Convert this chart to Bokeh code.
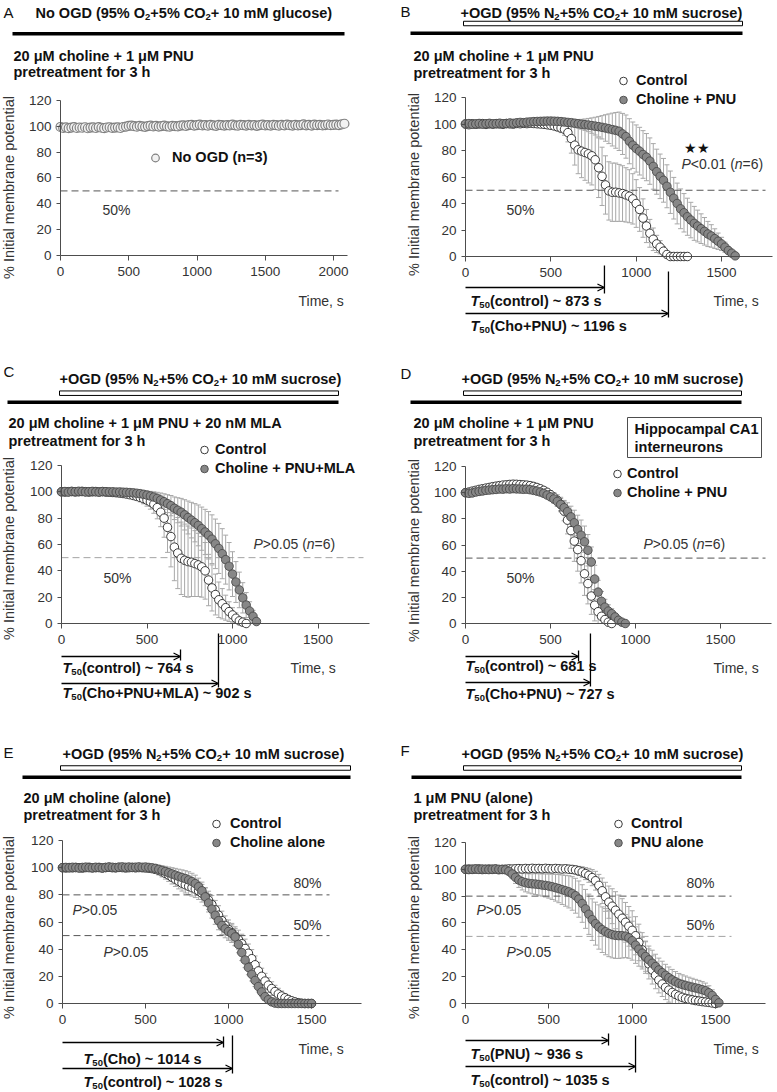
import numpy as np
from bokeh.plotting import figure
from bokeh.models import (Range1d, LinearAxis, FixedTicker, Whisker, TeeHead,
                          ColumnDataSource, Arrow, OpenHead, Legend, LegendItem)
from bokeh.layouts import gridplot
from bokeh.core.properties import value
from bokeh.embed import file_html
from bokeh.resources import INLINE

FONT = "Liberation Sans"
STEP = 20  # sampling interval of the recordings, s

X_TICKS_A = [0, 500, 1000, 1500, 2000]
X_TICKS = [0, 500, 1000, 1500]
Y_TICKS = [0, 20, 40, 60, 80, 100, 120]

# ---------------- Panel A : no OGD ----------------
A_noogd = [99.5, 98.8, 99.2, 98.6, 99.0, 99.4, 98.7, 99.1, 98.9, 99.3,
           98.5, 99.0, 99.2, 98.7, 99.4, 98.9, 98.6, 99.1, 99.3, 98.8,
           99.0, 99.2, 98.7, 99.5, 99.8, 100.3,
           100.6, 100.1, 99.7, 100.4, 100.0, 99.6, 100.2, 100.5, 99.9, 100.3,
           99.8, 100.1, 100.6, 100.0, 99.7, 100.4, 100.2, 99.9, 100.5, 100.8,
           100.3, 100.9, 101.2, 100.6, 100.9,
           101.3, 100.7, 101.0, 100.5, 101.1, 100.8, 100.4, 101.2, 100.9, 100.6,
           101.0, 100.7, 101.3, 100.8, 100.5, 101.1, 100.9, 100.6, 101.2, 100.8,
           101.0, 100.4, 100.9, 101.3, 100.7,
           101.0, 100.6, 101.2, 100.9, 100.5, 101.1, 100.8, 101.4, 100.9, 100.6,
           101.2, 100.7, 101.0, 101.5, 100.8, 101.1, 100.6, 101.3, 100.9, 101.2,
           100.7, 101.0, 101.4, 100.9, 101.1,
           101.3, 101.0, 101.5, 102.0]

# ---------------- Panel B : choline + PNU ----------------
B_ctrl = [100.0, 99.5, 100.2, 99.8, 100.0, 100.3, 99.7, 100.1, 99.9, 100.2,
          100.0, 99.8, 100.3, 100.1, 99.9, 100.4, 100.2, 100.5, 100.3, 100.6,
          100.4, 100.2, 100.0, 99.8, 99.4,
          99.0, 98.5, 97.8, 97.0, 96.0, 93.5, 89.0, 84.0, 80.5, 79.5,
          78.5, 77.5, 76.0, 73.0, 67.0, 60.5, 54.0, 49.5, 48.5, 48.5,
          48.0, 47.5, 46.5, 45.5, 43.5, 40.0, 35.5, 29.0, 23.0, 17.5,
          13.0, 9.5, 7.0, 4.0, 1.5, 0.0, 0.0, 0.0, 0.0, 0.0, 0.0]
B_ctrl_sem = [0.5, 0.6, 0.5, 0.7, 0.6, 0.5, 0.6, 0.7, 0.6, 0.5,
              0.6, 0.7, 0.8, 0.7, 0.6, 0.8, 0.9, 0.8, 0.9, 1.0,
              1.1, 1.0, 1.2, 1.4, 1.6,
              2.0, 2.5, 3.0, 3.5, 4.5, 7.0, 11.0, 15.0, 18.0, 20.0,
              21.0, 22.0, 22.0, 22.5, 22.5, 22.0, 22.0, 22.0, 22.0, 22.0,
              21.5, 21.0, 20.5, 20.0, 19.0, 18.0, 16.5, 14.5, 12.5, 10.5,
              8.5, 6.5, 5.0, 3.5, 2.0, 0.0, 0.0, 0.0, 0.0, 0.0, 0.0]
B_cho = [100.0, 100.3, 99.8, 100.1, 100.4, 99.9, 100.2, 100.5, 100.1, 100.3,
         100.6, 100.2, 100.4, 100.8, 100.5, 100.9, 101.2, 101.0, 101.4, 101.6,
         101.8, 101.9, 102.0, 102.1, 102.2, 102.2, 102.1, 102.0, 101.8, 101.5,
         101.2,
         101.0, 100.6, 100.2, 99.8, 99.5, 99.2, 98.8, 98.4, 98.0, 97.5,
         97.0, 96.4, 95.8, 95.2,
         94.5, 92.5, 90.5, 87.0, 84.0, 81.5, 79.5, 77.0, 75.0, 72.0,
         68.0, 64.0, 60.5, 57.5, 53.0, 48.5, 44.0, 40.0, 36.0, 33.0,
         30.0, 27.5, 25.0, 23.0, 21.0, 19.0, 17.0, 15.5, 13.5, 11.5,
         9.5, 7.0, 4.5, 2.5, 0.5]
B_cho_sem = [0.5, 0.5, 0.6, 0.5, 0.6, 0.7, 0.6, 0.5, 0.6, 0.7,
             0.6, 0.7, 0.8, 0.7, 0.8, 0.9, 0.8, 0.9, 1.0, 0.9,
             1.0, 1.1, 1.0, 1.2, 1.1, 1.3, 1.4, 1.5, 1.7, 1.9,
             2.1,
             2.4, 2.8, 3.2, 3.7, 4.3, 5.0, 5.8, 6.7, 7.7, 8.8,
             10.0, 11.2, 12.4, 13.5,
             14.5, 15.5, 16.3, 17.0, 17.5, 17.8, 18.0, 18.0, 17.8, 17.5,
             17.2, 17.0, 16.8, 16.5, 16.2, 16.0, 15.7, 15.4, 15.0, 14.5,
             14.0, 13.4, 12.8, 12.0, 11.2, 10.4, 9.5, 8.5, 7.4, 6.2,
             5.0, 3.8, 2.6, 1.5, 0.5]
B_t50 = ["873", "1196"]
B_t50_drawn = [814, 1189]

# ---------------- Panel C : choline + PNU + MLA ----------------
C_ctrl = [100.0, 99.8, 100.1, 100.2, 99.9, 100.0, 100.3, 100.1, 99.8, 100.0,
          100.2, 99.9, 100.1, 99.8, 99.7, 99.5, 99.3, 99.0,
          98.7, 98.3, 97.8, 97.2, 96.5, 95.7, 94.8, 93.7, 92.3, 90.5,
          88.0, 84.5, 80.0, 73.0, 66.0, 58.0, 53.5, 49.5, 48.0, 47.0,
          46.5, 45.5, 44.5, 43.0, 40.0, 33.0, 27.0, 22.0, 18.0, 15.0,
          12.0, 9.0, 6.5, 4.0, 2.0, 1.0, 0.0]
C_ctrl_sem = [0.4, 0.5, 0.4, 0.5, 0.6, 0.5, 0.4, 0.5, 0.6, 0.5,
              0.6, 0.7, 0.6, 0.7, 0.8, 0.9, 1.0, 1.2,
              1.4, 1.7, 2.0, 2.4, 2.8, 3.3, 3.9, 4.6, 5.5, 6.8,
              8.5, 11.0, 14.5, 19.0, 23.0, 25.5, 27.0, 27.5, 27.5, 27.0,
              26.0, 25.0, 24.0, 23.0, 21.5, 19.5, 17.5, 15.5, 13.5, 11.5,
              9.5, 7.5, 5.5, 4.0, 2.5, 1.2, 0.0]
C_cho = [100.0, 100.2, 99.8, 100.3, 100.1, 100.4, 100.2, 99.9, 100.1, 100.3,
         100.0, 99.8, 100.2, 100.1, 99.9, 100.0, 99.8, 99.9, 99.7, 99.6,
         99.4, 99.2, 98.9,
         98.6, 98.1, 97.5, 96.8, 96.0, 95.0, 93.8, 92.5, 91.0, 89.5,
         87.5, 86.0, 84.5, 82.5, 80.5, 78.5, 76.5, 74.5, 72.0, 69.5,
         67.0, 64.0, 60.5, 57.0, 53.0, 48.5, 43.5, 37.5, 31.5, 25.5,
         19.5, 14.0, 9.5, 5.5, 1.5]
C_cho_sem = [0.4, 0.5, 0.5, 0.4, 0.5, 0.6, 0.5, 0.6, 0.5, 0.6,
             0.7, 0.6, 0.7, 0.8, 0.7, 0.8, 0.9, 1.0, 1.1, 1.2,
             1.4, 1.6, 1.9,
             2.2, 2.6, 3.0, 3.5, 4.0, 4.6, 5.3, 6.0, 6.8, 7.7,
             8.6, 9.5, 10.5, 11.5, 12.5, 13.5, 14.5, 15.5, 16.4, 17.2,
             18.0, 18.5, 18.8, 19.0, 19.0, 18.6, 18.0, 17.0, 15.5, 13.5,
             11.5, 9.5, 7.0, 4.5, 2.0]
C_t50 = ["764", "902"]
C_t50_drawn = [696, 918]

# ---------------- Panel D : CA1 interneurons ----------------
D_ctrl = [100.0, 100.5, 101.2, 101.8, 102.5, 103.0, 103.5, 104.0, 104.6, 105.0,
          105.4, 105.8, 106.0, 106.3, 106.5, 106.4, 106.2, 106.0, 105.8, 105.4,
          104.8, 104.0, 103.0, 101.8, 100.3, 98.5, 96.5, 94.2, 91.0, 86.0,
          79.0, 71.0, 63.0, 56.5, 48.0, 38.0, 30.5, 21.0, 14.0, 9.0,
          5.5, 3.0, 1.0, 0.0]
D_ctrl_sem = [1.0, 1.2, 1.4, 1.5, 1.7, 1.8, 2.0, 2.1, 2.2, 2.3,
              2.4, 2.5, 2.5, 2.6, 2.6, 2.7, 2.7, 2.7, 2.6, 2.6,
              2.5, 2.5, 2.4, 2.5, 2.7, 3.0,
              3.5, 4.2, 5.5, 7.5, 10.5, 13.5, 15.5, 16.5, 17.0, 16.5,
              15.5, 14.0, 12.0, 9.5, 7.0, 4.5, 2.0, 0.5]
D_cho = [100.0, 99.5, 99.8, 100.5, 101.0, 101.3, 101.8, 102.0, 102.3, 102.5,
         102.8, 102.7, 103.0, 102.8, 103.1, 102.9, 102.8, 102.6, 102.7, 102.3,
         101.8, 101.2, 100.5, 99.5, 98.2, 96.8, 95.2, 93.3, 91.0, 88.5,
         85.5, 81.5, 77.0, 72.0, 67.5, 62.5, 56.0, 47.0, 34.0, 24.0,
         17.0, 12.5, 9.5, 7.5, 5.0, 2.5, 1.0, 0.0]
D_cho_sem = [1.0, 1.1, 1.2, 1.3, 1.4, 1.5, 1.6, 1.7, 1.8, 1.9,
             2.0, 2.0, 2.1, 2.1, 2.2, 2.2, 2.2, 2.2, 2.1, 2.1,
             2.0, 2.0, 2.1, 2.2, 2.4, 2.7,
             3.2, 3.8, 4.6, 5.6, 6.8, 8.2, 9.6, 10.8, 11.6, 12.0,
             12.0, 11.5, 10.5, 9.0, 7.5, 6.0, 4.8, 3.8, 2.8, 1.8,
             1.0, 0.3]
D_t50 = ["681", "727"]
D_t50_drawn = [665, 735]

# ---------------- Panel E : choline alone ----------------
E_ctrl = [100.0, 99.8, 100.1, 99.9, 100.2, 100.0, 99.7, 100.1, 100.3, 99.9,
          100.0, 100.2, 99.8, 100.1, 100.3, 100.0, 99.9, 100.2, 100.1, 99.8,
          100.0, 100.2, 99.9, 100.1, 100.0, 99.8, 99.6, 99.3,
          98.8, 98.0, 97.0, 95.8, 94.5, 93.0, 91.5, 90.0, 88.6, 87.4,
          86.3, 85.3, 84.3, 83.0, 81.2, 78.8, 76.0, 72.8, 69.0, 65.0,
          61.0, 57.5, 54.5, 52.0, 49.5, 47.0, 44.0, 40.5, 37.0, 33.0,
          28.5, 24.0, 20.0, 16.5, 13.5, 11.0, 8.8, 7.0, 5.5, 4.2,
          3.0, 2.0, 1.2, 0.6, 0.2, 0.0, 0.0, 0.0]
E_ctrl_sem = [0.5, 0.6, 0.5, 0.6, 0.5, 0.6, 0.7, 0.6, 0.5, 0.6,
              0.7, 0.6, 0.7, 0.8, 0.7, 0.8, 0.9, 0.8, 0.9, 1.0,
              1.1, 1.2, 1.3, 1.5, 1.7, 1.9, 2.2, 2.5,
              2.9, 3.3, 3.8, 4.2, 4.6, 5.0, 5.3, 5.6, 5.8, 6.0,
              6.1, 6.2, 6.3, 6.4, 6.5, 6.6, 6.7, 6.8, 6.9, 7.0,
              7.0, 7.0, 7.0, 7.0, 7.0, 7.0, 7.0, 6.9, 6.8, 6.7,
              6.5, 6.3, 6.0, 5.7, 5.4, 5.0, 4.6, 4.2, 3.7, 3.2,
              2.7, 2.2, 1.7, 1.2, 0.8, 0.4, 0.2, 0.0]
E_cho = [100.0, 100.2, 99.9, 100.3, 100.1, 99.8, 100.2, 100.4, 100.0, 99.9,
         100.3, 100.1, 99.8, 100.2, 100.5, 100.3, 100.1, 100.4, 100.6, 100.3,
         100.5, 100.2, 100.4, 100.6, 100.3, 100.5, 100.2, 99.9,
         99.5, 98.8, 98.0, 97.2, 96.3, 95.4, 94.5, 93.6, 92.8, 92.0,
         91.0, 89.8, 88.3, 86.0, 83.0, 78.5, 74.0, 69.5, 65.0, 61.0,
         57.5, 55.0, 53.0, 51.5, 49.0, 43.5, 37.5, 32.0, 26.5, 21.5,
         17.0, 12.5, 8.5, 5.0, 2.8, 1.2, 0.3,
         0.0, 0.0, 0.0, 0.0, 0.0, 0.0, 0.0, 0.0, 0.0, 0.0, 0.0]
E_cho_sem = [0.5, 0.5, 0.6, 0.5, 0.6, 0.5, 0.6, 0.7, 0.6, 0.5,
             0.6, 0.7, 0.6, 0.7, 0.6, 0.7, 0.8, 0.7, 0.8, 0.9,
             1.0, 1.1, 1.2, 1.4, 1.6, 1.8, 2.0, 2.3,
             2.6, 3.0, 3.4, 3.8, 4.2, 4.6, 5.0, 5.3, 5.6, 5.8,
             6.0, 6.1, 6.2, 6.3, 6.4, 6.5, 6.6, 6.6, 6.7, 6.7,
             6.7, 6.6, 6.5, 6.4, 6.3, 6.1, 5.9, 5.6, 5.3, 4.9,
             4.5, 4.0, 3.4, 2.8, 2.2, 1.6, 1.0, 0.6, 0.3, 0.0,
             0.0, 0.0, 0.0, 0.0, 0.0, 0.0, 0.0, 0.0]
E_t50 = ["1014", "1028"]
E_t50_drawn = [970, 1024]

# ---------------- Panel F : PNU alone ----------------
F_ctrl = [100.0, 100.2, 99.9, 100.1, 100.3, 99.8, 100.0, 100.2, 99.9, 100.1,
          99.7, 99.9, 100.1, 100.3, 100.2, 100.4,
          100.5, 100.3, 100.6, 100.4, 100.7, 100.5, 100.6, 100.4, 100.7, 100.5,
          100.3, 100.6, 100.4, 100.2, 100.4, 100.1, 99.9, 99.5, 98.8, 98.0,
          96.8, 95.5, 93.8, 91.5, 88.0, 84.0, 79.5, 75.5, 72.5, 69.5,
          66.5, 63.5, 60.5, 57.5, 54.5, 50.5, 45.5, 40.0, 34.5, 29.5,
          25.0, 21.0, 17.5, 14.5, 12.0, 10.0, 8.2, 6.8, 5.6, 4.6,
          3.8, 3.2, 2.7, 2.2, 1.8, 1.4, 1.1, 0.8, 0.4, 0.0]
F_ctrl_sem = [0.8, 0.9, 1.0, 1.0, 1.1, 1.2, 1.2, 1.3, 1.3, 1.4,
              1.4, 1.5, 1.5, 1.5, 1.6, 1.6,
              1.6, 1.7, 1.7, 1.7, 1.8, 1.8, 1.8, 1.9, 1.9, 1.9,
              2.0, 2.0, 2.1, 2.2, 2.3, 2.5, 2.7, 3.0, 3.4, 3.9,
              4.5, 5.2, 6.0, 7.0, 8.2, 9.5, 10.8, 12.0, 13.0, 13.8,
              14.3, 14.6, 14.8, 14.8, 14.6, 14.2, 13.6, 12.8, 12.0, 11.2,
              10.5, 10.0, 9.6, 9.3, 9.1, 9.0, 9.0, 9.0, 9.0, 9.0,
              9.0, 8.8, 8.5, 8.0, 7.4, 6.6, 5.6, 4.4, 2.8, 0.0]
F_pnu = [100.0, 99.8, 100.1, 100.3, 99.9, 100.2, 100.0, 99.8, 100.1, 100.3,
         100.0, 99.9, 99.6,
         98.5, 96.5, 94.0, 92.0, 90.8, 90.0, 89.5, 89.2, 89.0, 88.7,
         88.3, 88.0, 87.5, 87.0, 86.3, 85.6, 84.8, 84.0, 83.2, 82.0,
         80.3, 77.8, 74.5, 70.5, 66.5, 62.5, 59.5, 57.0, 55.0, 53.5,
         52.2, 51.3, 50.8, 50.6, 50.5, 50.2, 49.0, 46.8, 43.5, 40.5,
         37.5, 35.0, 32.5, 30.0, 27.5, 25.0, 23.0, 21.0, 19.2, 17.6,
         16.2, 15.0, 14.2, 13.5, 12.8, 12.2, 11.6, 11.0, 10.3, 9.5,
         8.0, 6.0, 3.0, 0.5]
F_pnu_sem = [0.8, 0.9, 0.9, 1.0, 1.0, 1.1, 1.1, 1.2, 1.2, 1.3,
             1.3, 1.5, 1.8,
             2.5, 3.5, 4.5, 5.5, 6.2, 6.8, 7.2, 7.5, 7.8, 8.0,
             8.3, 8.6, 9.0, 9.5, 10.0, 10.5, 11.0, 11.5, 12.0, 12.5,
             13.0, 13.5, 14.0, 14.5, 15.0, 15.5, 16.0, 16.5, 17.0, 17.2,
             17.3, 17.3, 17.2, 17.0, 16.6, 16.0, 15.3, 14.5, 13.6, 12.7,
             11.8, 11.0, 10.3, 9.7, 9.2, 8.8, 8.5, 8.2, 8.0, 7.8,
             7.6, 7.4, 7.2, 7.0, 6.8, 6.6, 6.4, 6.2, 6.0, 5.7,
             5.2, 4.2, 2.8, 1.0]
F_t50 = ["936", "1035"]
F_t50_drawn = [858, 1020]

# ---------------------------------------------------------------
EB = "#a8a8a8"
CTRL_FILL, CTRL_LINE = "white", "#262626"
TRT_FILL, TRT_LINE = "#878787", "#4a4a4a"
DARK_DASH, LIGHT_DASH = "#555555", "#a3a3a3"
TXT = "#111111"
GREY_TXT = "#333333"

W_REG = {' ': 278, '%': 889, '(': 333, ')': 333, '+': 584, ',': 278, '.': 278,
         '<': 584, '=': 584, '>': 584, '~': 584, 'P': 667, 'T': 611, 'n': 556, 's': 500}
W_BOLD = {' ': 278, '%': 889, '(': 333, ')': 333, '+': 584, '.': 278, '~': 584,
          'T': 611, 'C': 722, 'P': 667, 'N': 722, 'U': 722, 'M': 833, 'L': 611,
          'A': 722, 'O': 778, 'G': 778, 'D': 722, 'c': 556, 'o': 611, 'n': 611,
          't': 333, 'r': 389, 'l': 278, 's': 556, 'h': 611, 'i': 278, 'e': 556,
          'm': 889, 'g': 611, 'u': 611}


def text_width(s, size, bold):
    tab = W_BOLD if bold else W_REG
    return sum(tab.get(c, 556) for c in s) * size / 1000.0


def times(vals):
    return [i * STEP for i in range(len(vals))]


class Panel:
    def __init__(self, fx, fy, w, h, x0, kx, y0, ky):
        self.fx, self.fy, self.w, self.h = fx, fy, w, h
        self.x0, self.kx, self.y0, self.ky = x0, kx, y0, ky
        p = figure(width=w, height=h,
                   x_range=Range1d((fx - x0) / kx, (fx + w - x0) / kx),
                   y_range=Range1d((y0 - fy - h) / ky, (y0 - fy) / ky),
                   output_backend="svg", toolbar_location=None,
                   x_axis_location=None, y_axis_location=None, title_location=None,
                   min_border=0, min_border_left=0, min_border_right=0,
                   min_border_top=0, min_border_bottom=0,
                   outline_line_color=None, background_fill_color="white",
                   border_fill_color="white")
        p.grid.visible = False
        self.p = p

    def X(self, px):
        return (px - self.x0) / self.kx

    def Y(self, py):
        return (self.y0 - py) / self.ky

    def text(self, px, py, s, size=14.5, style="bold", color=TXT, align="left", angle=0.0):
        self.p.text(x=[self.X(px)], y=[self.Y(py)], text=[s], angle=angle,
                    text_font=value(FONT), text_font_size=f"{size}px",
                    text_font_style=style, text_color=color,
                    text_align=align, text_baseline="middle")

    def rich(self, px, py, parts, color=TXT):
        x = px
        for s, size, style, dyp in parts:
            self.text(x, py + dyp, s, size=size, style=style, color=color)
            x += text_width(s, size, "bold" in style)

    def title(self, px, py, gas, tail):
        parts = []
        for seg in gas:
            parts.append((seg, 14.5, "bold", 0))
            parts.append(("2", 9.5, "bold", 4))
        parts.append((tail, 14.5, "bold", 0))
        self.rich(px, py, parts)

    def black_bar(self, x1, x2, py):
        self.p.segment(x0=[self.X(x1)], y0=[self.Y(py)], x1=[self.X(x2)], y1=[self.Y(py)],
                       line_color="black", line_width=3.5)

    def open_bar(self, x1, x2, py):
        self.p.rect(x=[(self.X(x1) + self.X(x2)) / 2], y=[self.Y(py)],
                    width=[self.X(x2) - self.X(x1)], height=[4.5], height_units="screen",
                    fill_color="white", line_color="black", line_width=1)

    def axes(self, xmax, xticks):
        common = dict(axis_line_color="#4d4d4d", major_tick_line_color="#4d4d4d",
                      major_tick_in=0, minor_tick_in=0, minor_tick_out=0,
                      major_label_text_font=FONT, major_label_text_color=GREY_TXT,
                      major_label_text_font_size="13.5px", axis_line_width=1)
        xa = LinearAxis(fixed_location=0, bounds=(0, xmax),
                        ticker=FixedTicker(ticks=xticks, minor_ticks=[]),
                        major_tick_out=5, major_label_standoff=6, **common)
        ya = LinearAxis(fixed_location=0, bounds=(0, 120),
                        ticker=FixedTicker(ticks=Y_TICKS, minor_ticks=[]),
                        major_tick_out=4, major_label_standoff=5, **common)
        self.p.add_layout(xa, "below")
        self.p.add_layout(ya, "left")

    def ylabel(self, px, py):
        self.text(px, py, "% Initial membrane potential", size=14.5, style="normal",
                  color=GREY_TXT, align="center", angle=np.pi / 2)

    def series(self, vals, sems, fill, line, size=8.5, lw=0.9):
        t = times(vals)
        if sems is not None:
            rows = [(ti, v, s) for ti, v, s in zip(t, vals, sems) if s > 0.3]
            src = ColumnDataSource(dict(t=[r[0] for r in rows],
                                        up=[r[1] + r[2] for r in rows],
                                        lo=[max(r[1] - r[2], 0.0) for r in rows]))
            self.p.add_layout(Whisker(source=src, base="t", upper="up", lower="lo",
                                      line_color=EB, line_width=1,
                                      upper_head=TeeHead(size=5, line_color=EB, line_width=1),
                                      lower_head=TeeHead(size=5, line_color=EB, line_width=1)))
        return self.p.scatter(t, vals, size=size, marker="circle", fill_color=fill,
                              line_color=line, line_width=lw)

    def legend(self, items, mx, my, standoff):
        n = len(items)
        left = mx - 10 - self.fx
        bottom = my + 19 * (n - 1) + 9.5 - self.fy
        leg = Legend(items=[LegendItem(label=l, renderers=[r]) for l, r in items],
                     location=(left, self.h - bottom), orientation="vertical",
                     glyph_width=20, glyph_height=19, label_height=19, label_standoff=standoff,
                     spacing=0, padding=0, margin=0, border_line_color=None,
                     background_fill_alpha=0, label_text_font=FONT,
                     label_text_font_size="14.5px", label_text_font_style="bold",
                     label_text_color=TXT)
        self.p.add_layout(leg)

    def refline(self, level, xend_px, color):
        self.p.segment(x0=[0], y0=[level], x1=[self.X(xend_px)], y1=[level],
                       line_color=color, line_dash="7 4", line_width=1)

    def t50(self, t_end, ypx, vtop, vbot, tx, ty, inner):
        y = self.Y(ypx)
        self.p.add_layout(Arrow(end=OpenHead(size=7, line_width=1.3, line_color="black"),
                                x_start=0, y_start=y, x_end=t_end, y_end=y,
                                line_width=1.3, line_color="black"))
        self.p.segment(x0=[t_end], y0=[self.Y(vtop)], x1=[t_end], y1=[self.Y(vbot)],
                       line_color="black", line_width=1.3)
        self.rich(tx, ty, [("T", 14.5, "bold italic", 0), ("50", 9.5, "bold", 4),
                           (inner, 14.5, "bold", 0)])

    def pval(self, px, py, op, n=None):
        parts = [("P", 14, "italic", 0)]
        if n is None:
            parts.append((op, 14, "normal", 0))
        else:
            parts += [(op + " (", 14, "normal", 0), ("n", 14, "italic", 0),
                      ("=" + n + ")", 14, "normal", 0)]
        self.rich(px, py, parts, color=GREY_TXT)


OGD = ["+OGD (95% N", "+5% CO"]
OGD_TAIL = " + 10 mM sucrose)"

# ===================== A =====================
pa = Panel(0, 0, 388, 362, 60, 0.1365, 255, 1.2917)
pa.text(3, 12, "A", size=15, style="normal")
pa.title(35, 12, ["No OGD (95% O", "+5% CO"], " + 10 mM glucose)")
pa.black_bar(12, 344, 33.3)
pa.text(13, 55, "20 \u03bcM choline + 1 \u03bcM PNU")
pa.text(13, 71, "pretreatment for 3 h")
pa.axes(2100, X_TICKS_A)
pa.ylabel(8, 187)
pa.refline(50, 338, DARK_DASH)
pa.text(102, 209, "50%", size=14, style="normal", color=GREY_TXT)
ra = pa.series(A_noogd, None, "#f2f2f2", "#808080", size=9, lw=1.2)
pa.legend([("No OGD (n=3)", ra)], 155, 157, 7)
pa.text(298, 300, "Time, s", size=14, style="normal", color=GREY_TXT)

# ===================== B =====================
pb = Panel(388, 0, 389, 362, 465, 0.1707, 256, 1.325)
pb.text(400, 11, "B", size=15, style="normal")
pb.title(460, 12, OGD, OGD_TAIL)
pb.open_bar(463, 742, 23)
pb.black_bar(410, 742, 32.7)
pb.text(413, 55, "20 \u03bcM choline + 1 \u03bcM PNU")
pb.text(413, 72, "pretreatment for 3 h")
pb.axes(1800, X_TICKS)
pb.ylabel(413, 184)
pb.refline(50, 765, DARK_DASH)
pb.text(506, 209, "50%", size=14, style="normal", color=GREY_TXT)
rb1 = pb.series(B_ctrl, B_ctrl_sem, CTRL_FILL, CTRL_LINE)
rb2 = pb.series(B_cho, B_cho_sem, TRT_FILL, TRT_LINE)
pb.legend([("Control", rb1), ("Choline + PNU", rb2)], 623, 80, 3)
pb.text(683, 147, "\u2605\u2605", size=14, style="normal", color=TXT)
pb.pval(681, 163, "<0.01", "6")
pb.text(713, 300, "Time, s", size=14, style="normal", color=GREY_TXT)
pb.t50(B_t50_drawn[0], 287, 265, 293, 470, 300, "(control) ~ %s s" % B_t50[0])
pb.t50(B_t50_drawn[1], 313, 271, 317, 470, 325, "(Cho+PNU) ~ %s s" % B_t50[1])

# ===================== C =====================
pc = Panel(0, 362, 388, 360, 61, 0.171, 623, 1.317)
pc.text(3, 371, "C", size=15, style="normal")
pc.title(59, 378, OGD, OGD_TAIL)
pc.open_bar(59, 338, 392.7)
pc.black_bar(7, 338, 401.7)
pc.text(8, 422, "20 \u03bcM choline + 1 \u03bcM PNU + 20 nM MLA")
pc.text(8, 440, "pretreatment for 3 h")
pc.axes(1800, X_TICKS)
pc.ylabel(8, 548)
pc.refline(50, 363, LIGHT_DASH)
pc.text(103, 577, "50%", size=14, style="normal", color=GREY_TXT)
rc1 = pc.series(C_ctrl, C_ctrl_sem, CTRL_FILL, CTRL_LINE)
rc2 = pc.series(C_cho, C_cho_sem, TRT_FILL, TRT_LINE)
pc.legend([("Control", rc1), ("Choline + PNU+MLA", rc2)], 204, 449, 1)
pc.pval(253, 543, ">0.05", "6")
pc.text(290, 667, "Time, s", size=14, style="normal", color=GREY_TXT)
pc.t50(C_t50_drawn[0], 656, 649, 660, 62, 667, "(control) ~ %s s" % C_t50[0])
pc.t50(C_t50_drawn[1], 683, 633, 687, 62, 692, "(Cho+PNU+MLA) ~ %s s" % C_t50[1])

# ===================== D =====================
pd_ = Panel(388, 362, 389, 360, 465, 0.170, 623, 1.308)
pd_.text(400, 373, "D", size=15, style="normal")
pd_.title(461, 378, OGD, OGD_TAIL)
pd_.open_bar(463, 741, 392.7)
pd_.black_bar(410, 741, 401.7)
pd_.text(413, 422, "20 \u03bcM choline + 1 \u03bcM PNU")
pd_.text(413, 440, "pretreatment for 3 h")
pd_.p.rect(x=[pd_.X(694)], y=[pd_.Y(437)], width=[134], height=[40],
           width_units="screen", height_units="screen",
           fill_color="white", line_color="#4d4d4d", line_width=1)
pd_.text(634, 428, "Hippocampal CA1")
pd_.text(634, 446, "interneurons")
pd_.axes(1800, X_TICKS)
pd_.ylabel(413, 550)
pd_.refline(50, 765, DARK_DASH)
pd_.text(506, 577, "50%", size=14, style="normal", color=GREY_TXT)
rd1 = pd_.series(D_ctrl, D_ctrl_sem, CTRL_FILL, CTRL_LINE)
rd2 = pd_.series(D_cho, D_cho_sem, TRT_FILL, TRT_LINE)
pd_.legend([("Control", rd1), ("Choline + PNU", rd2)], 617, 473, 0)
pd_.pval(643, 543, ">0.05", "6")
pd_.text(713, 667, "Time, s", size=14, style="normal", color=GREY_TXT)
pd_.t50(D_t50_drawn[0], 656, 650, 661, 465, 665, "(control) ~ %s s" % D_t50[0])
pd_.t50(D_t50_drawn[1], 682, 633, 686, 465, 693, "(Cho+PNU) ~ %s s" % D_t50[1])

# ===================== E =====================
pe = Panel(0, 722, 388, 370, 62, 0.166, 1003, 1.358)
pe.text(3, 752, "E", size=15, style="normal")
pe.title(62, 753, OGD, OGD_TAIL)
pe.open_bar(60, 350, 767.5)
pe.black_bar(22, 350, 776.7)
pe.text(23, 797, "20 \u03bcM choline (alone)")
pe.text(23, 814, "pretreatment for 3 h")
pe.axes(1800, X_TICKS)
pe.ylabel(8, 927)
pe.refline(80, 329, DARK_DASH)
pe.refline(50, 329, DARK_DASH)
pe.text(293, 882, "80%", size=14, style="normal", color=GREY_TXT)
pe.text(293, 924, "50%", size=14, style="normal", color=GREY_TXT)
re1 = pe.series(E_ctrl, E_ctrl_sem, CTRL_FILL, CTRL_LINE)
re2 = pe.series(E_cho, E_cho_sem, TRT_FILL, TRT_LINE)
pe.legend([("Control", re1), ("Choline alone", re2)], 216, 823, 4)
pe.pval(72, 909, ">0.05")
pe.pval(103, 951, ">0.05")
pe.text(298, 1048, "Time, s", size=14, style="normal", color=GREY_TXT)
pe.t50(E_t50_drawn[0], 1042, 1036, 1047, 83, 1058, "(Cho) ~ %s s" % E_t50[0])
pe.t50(E_t50_drawn[1], 1068, 1035, 1073, 83, 1081, "(control) ~ %s s" % E_t50[1])

# ===================== F =====================
pf = Panel(388, 722, 389, 370, 465, 0.1667, 1003, 1.342)
pf.text(400, 750, "F", size=15, style="normal")
pf.title(461, 753, OGD, OGD_TAIL)
pf.open_bar(463, 741, 767.5)
pf.black_bar(411, 741, 776.7)
pf.text(413, 797, "1 \u03bcM PNU (alone)")
pf.text(413, 814, "pretreatment for 3 h")
pf.axes(1800, X_TICKS)
pf.ylabel(413, 927)
pf.refline(80, 731, DARK_DASH)
pf.refline(50, 731, LIGHT_DASH)
pf.text(686, 882, "80%", size=14, style="normal", color=GREY_TXT)
pf.text(686, 924, "50%", size=14, style="normal", color=GREY_TXT)
rf1 = pf.series(F_ctrl, F_ctrl_sem, CTRL_FILL, CTRL_LINE)
rf2 = pf.series(F_pnu, F_pnu_sem, TRT_FILL, TRT_LINE)
pf.legend([("Control", rf1), ("PNU alone", rf2)], 618, 823, 3)
pf.pval(476, 909, ">0.05")
pf.pval(506, 951, ">0.05")
pf.text(713, 1048, "Time, s", size=14, style="normal", color=GREY_TXT)
pf.t50(F_t50_drawn[0], 1040, 1033, 1045, 470, 1053, "(PNU) ~ %s s" % F_t50[0])
pf.t50(F_t50_drawn[1], 1066, 1035, 1072, 470, 1079, "(control) ~ %s s" % F_t50[1])

grid = gridplot([[pa.p, pb.p], [pc.p, pd_.p], [pe.p, pf.p]], toolbar_location=None)
open("out.html", "w").write(file_html(grid, INLINE))
